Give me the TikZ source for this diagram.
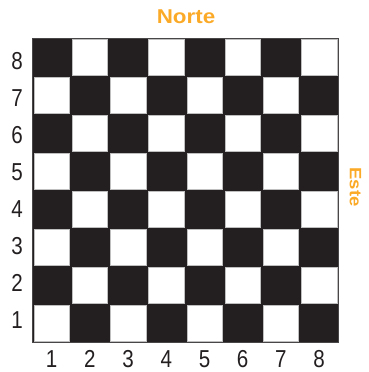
\documentclass[tikz,border=0pt]{standalone}
\usepackage{fontspec}
\setmainfont{Liberation Sans}
\newfontfamily\condfont[FakeStretch=0.84]{Liberation Sans}
\newfontfamily\widefont[FakeStretch=1.12]{Liberation Sans}
\usetikzlibrary{positioning}
\definecolor{boarddark}{HTML}{231F20}
\definecolor{compassorange}{HTML}{FBAA28}

\begin{document}
\begin{tikzpicture}[
    x=1pt, y=-1pt,
    every node/.style={inner sep=0pt},
    rank/.style={font=\condfont\fontsize{24.5}{24.5}\selectfont, text=boarddark},
    compass/.style={font=\widefont\bfseries\fontsize{20}{20}\selectfont, text=compassorange},
    lightsq/.style={fill=white, draw=gray!50, line width=0.3pt}
]
\useasboundingbox (0,0) rectangle (369,372);

% Compass labels
\node[compass] (norte) at (186,16.3) {Norte};
\node[compass, font=\widefont\bfseries\fontsize{16.5}{16.5}\selectfont, rotate=-90] (este) at (355.5,187) {Este};

% Board
\fill[boarddark] (32.6,38) rectangle (338.2,342);
\draw[gray!40!boarddark, line width=0.4pt] (32.6,38) rectangle (338.2,342);

% Light squares
\foreach \c in {1,...,8}
  \foreach \r in {1,...,8} {
    \pgfmathtruncatemacro{\parity}{mod(\c+\r,2)}
    \ifnum\parity=0
      \draw[lightsq] ({32.6+38.2*(\c-1)+1.4},{38+38*(8-\r)+1.3})
        rectangle ++(35.4,35.4);
    \fi
  }

% Rank numbers (left)
\foreach \r in {1,...,8}
  \node[rank] (row\r) at (17,{61+37*(8-\r)}) {\r};

% File numbers (bottom)
\foreach \c in {1,...,8}
  \node[rank] (col\c) at ({51.7+38.2*(\c-1)},359) {\c};

\end{tikzpicture}
\end{document}
